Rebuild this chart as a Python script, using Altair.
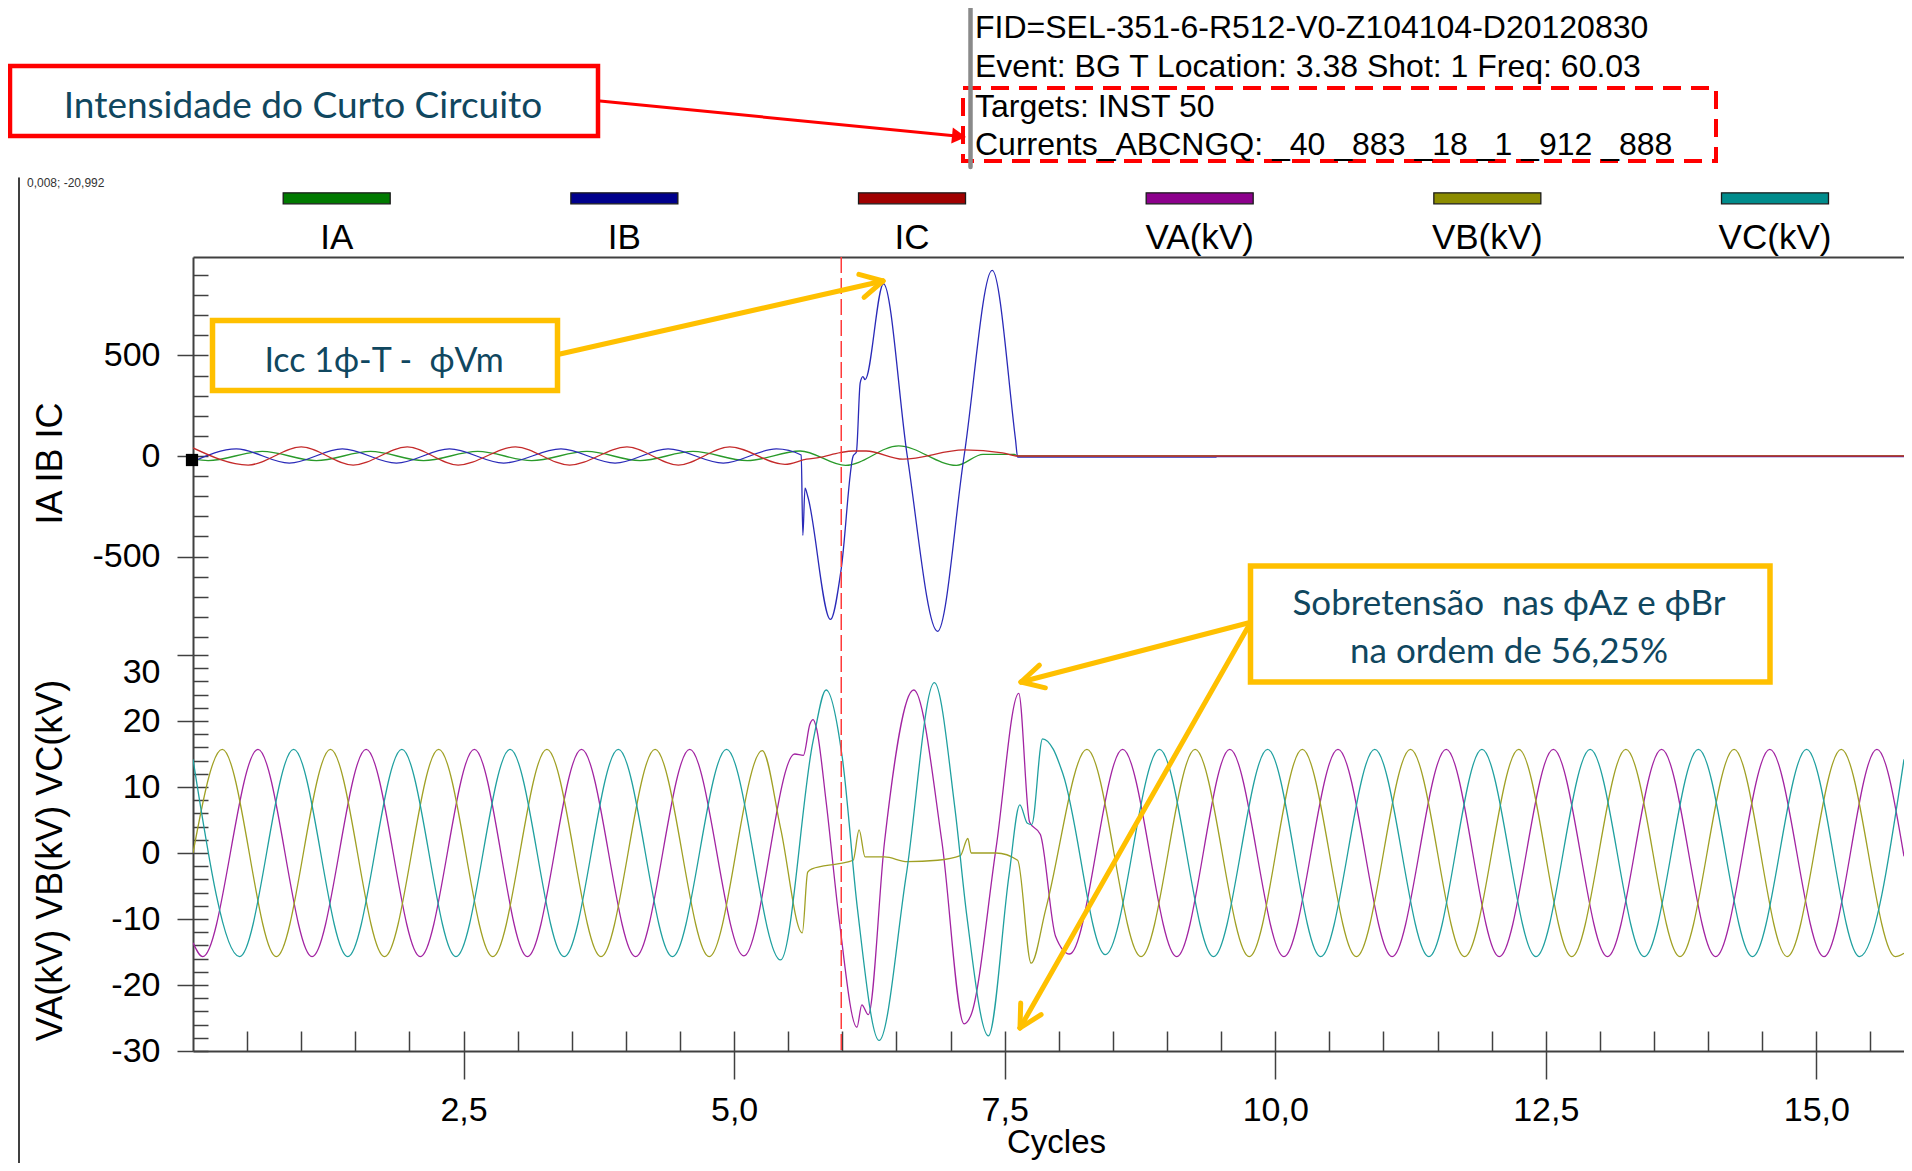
import math
import altair as alt
import pandas as pd

# ---------------- data ----------------
SERIES = ["IA", "IB", "IC", "VA(kV)", "VB(kV)", "VC(kV)"]
LEGEND_COLORS = ["#007a00", "#00008c", "#a00000", "#8c008c", "#8c8c00", "#008c8c"]
LINE_COLORS = ["#2a9a2a", "#2a2ab8", "#c42a2a", "#a224a2", "#a0a024", "#20a0a0"]

# currents (A) : time in cycles / value at peaks, troughs and breakpoints
IA_T = [0.00, 0.14, 0.64, 1.14, 1.64, 2.13, 2.63, 3.13, 3.64, 4.13, 4.62, 5.12,
        5.61, 6.03, 6.52, 7.055, 7.30, 7.59, 7.62, 15.81]
IA_V = [-16, -23, 23, -23, 23, -23, 23, -23, 23, -23, 23, -23,
        25, -47, 50, -47, 8, 8, 0, 0]

IB_T = [0.00, 0.40, 0.89, 1.38, 1.88, 2.37, 2.87, 3.40, 3.90, 4.39, 4.90, 5.39,
        5.62, 5.635, 5.655, 5.68, 5.89, 5.99, 6.10, 6.13, 6.165, 6.19, 6.21,
        6.38, 6.60, 6.88, 7.125, 7.385, 7.60, 7.62, 9.45, 9.46, 15.81]
IB_V = [-28, 35, -35, 35, -35, 35, -35, 35, -35, 35, -35, 35,
        5, -395, -160, -200, -813, -560, 0, 20, 364, 395, 380,
        857, 0, -872, 0, 923, 82, -6, -6, -3, -3]

IC_T = [0.00, 0.51, 1.00, 1.48, 1.98, 2.45, 2.98, 3.48, 4.01, 4.485, 4.96, 5.47,
        5.67, 5.79, 5.98, 6.10, 6.22, 6.56, 7.125, 7.48, 7.62, 15.81]
IC_V = [40, -45, 45, -45, 45, -45, 45, -45, 45, -45, 45, -42,
        -16, -7, 17, 25, 25, -16, 30, 16, 0, 0]

# voltages (kV)
VA_T = [0.00, 0.09, 0.60, 1.10, 1.60, 2.10, 2.60, 3.09, 3.59, 4.09, 4.59, 5.09,
        5.56, 5.64, 5.70, 5.73, 5.76, 5.85, 5.97, 6.135, 6.18, 6.24, 6.39, 6.66,
        6.92, 7.125, 7.19, 7.42, 7.63, 7.73, 7.83, 7.97, 8.10,
        8.59, 9.09, 9.58, 10.08, 10.58, 11.08, 11.58, 12.07, 12.57, 13.07, 13.57,
        14.07, 14.57, 15.07, 15.56, 15.81]
VA_V = [-13.6, -15.7, 15.7, -15.7, 15.7, -15.7, 15.7, -15.7, 15.7, -15.7, 15.7, -15.6,
        15.0, 14.8, 19.5, 20.2, 19.0, 7.8, -10.0, -26.4, -23.0, -24.5, 1.7, 24.7,
        1.7, -25.9, -24.5, 0.7, 24.2, 4.7, 2.8, -12.6, -15.3,
        15.7, -15.7, 15.7, -15.7, 15.7, -15.7, 15.7, -15.7, 15.7, -15.7, 15.7,
        -15.7, 15.7, -15.7, 15.7, -0.5]

VB_T = [0.00, 0.27, 0.77, 1.27, 1.77, 2.27, 2.77, 3.27, 3.77, 4.27, 4.77, 5.26,
        5.43, 5.63, 5.68, 5.72, 5.97, 6.10, 6.155, 6.21, 6.39, 6.60, 6.88, 7.09,
        7.16, 7.19, 7.42, 7.62, 7.745, 7.88, 8.26,
        8.76, 9.26, 9.76, 10.25, 10.75, 11.25, 11.75, 12.25, 12.74, 13.24,
        13.74, 14.24, 14.73, 15.23, 15.73, 15.81]
VB_V = [0.0, 15.7, -15.7, 15.7, -15.7, 15.7, -15.7, 15.7, -15.7, 15.7, -15.7, 15.5,
        3.7, -12.1, -2.9, -2.4, -1.6, -1.1, 3.5, -0.6, -0.6, -1.3, -1.1, -0.4,
        2.2, 0.0, 0.0, -1.1, -16.7, -8.5, 15.7,
        -15.7, 15.7, -15.7, 15.7, -15.7, 15.7, -15.7, 15.7, -15.7, 15.7,
        -15.7, 15.7, -15.7, 15.7, -15.7, -15.2]

VC_T = [0.00, 0.43, 0.93, 1.43, 1.93, 2.43, 2.93, 3.43, 3.93, 4.43, 4.93, 5.43,
        5.73, 5.85, 6.00, 6.14, 6.34, 6.59, 6.85, 7.04, 7.15, 7.35, 7.54, 7.64,
        7.71, 7.75, 7.85, 7.95, 8.04, 8.43,
        8.93, 9.43, 9.93, 10.42, 10.92, 11.42, 11.91, 12.41, 12.91, 13.41,
        13.91, 14.41, 14.91, 15.40, 15.81]
VC_V = [14.2, -15.7, 15.7, -15.7, 15.7, -15.7, 15.7, -15.7, 15.7, -15.7, 15.7, -16.2,
        17.0, 24.7, 14.4, -8.5, -28.4, -3.4, 25.8, 6.8, -9.5, -27.7, -3.4, 7.3,
        4.5, 4.3, 17.3, 15.7, 11.9, -15.4,
        15.7, -15.7, 15.7, -15.7, 15.7, -15.7, 15.7, -15.7, 15.7, -15.7,
        15.7, -15.7, 15.7, -15.7, 14.2]

TRIGGER = [5.99]

X_MAJOR = [2.5, 5.0, 7.5, 10.0, 12.5, 15.0]
X_MINOR = [0.5, 1.0, 1.5, 2.0, 2.5, 3.0, 3.5, 4.0, 4.5, 5.0, 5.5, 6.0, 6.5, 7.0, 7.5,
           8.0, 8.5, 9.0, 9.5, 10.0, 10.5, 11.0, 11.5, 12.0, 12.5, 13.0, 13.5, 14.0,
           14.5, 15.0, 15.5]
I_MAJOR = [-500, 0, 500]
I_MINOR = list(range(-900, 901, 100))
V_MAJOR = [-30, -20, -10, 0, 10, 20, 30]
V_MINOR = list(range(-30, 31, 2))

HEADER = ["FID=SEL-351-6-R512-V0-Z104104-D20120830",
          "Event: BG T Location: 3.38 Shot: 1 Freq: 60.03",
          "Targets: INST 50",
          "Currents_ABCNGQ:\u00a0_40\u00a0_883\u00a0_18\u00a0_1\u00a0_912\u00a0_888"]


def frame(names, ts, vs):
    rows = []
    for n, T, V in zip(names, ts, vs):
        for t, v in zip(T, V):
            rows.append({"t": t, "v": v, "s": n})
    return pd.DataFrame(rows)


dfI = frame(SERIES[:3], [IA_T, IB_T, IC_T], [IA_V, IB_V, IC_V])
dfV = frame(SERIES[3:], [VA_T, VB_T, VC_T], [VA_V, VB_V, VC_V])
ONE = pd.DataFrame({"k": [0]})

# ---------------- layout ----------------
W, H, HI = 1711, 794, 398
XMAX = 15.81
AX = "#404040"
F_AX = "Liberation Sans, Arial, sans-serif"
F_ANN = "Lato, 'Open Sans', sans-serif"
F_HDR = "'Liberation Sans', Arial, sans-serif"
TXT = "#10475f"
YEL = "#ffc000"

xs = alt.Scale(domain=[0, XMAX], nice=False, zero=False)
ysI = alt.Scale(domain=[-990, 990], range=[HI, 0], nice=False, zero=False)
ysV = alt.Scale(domain=[-30, 30], range=[H, HI], nice=False, zero=False)

common = dict(grid=False, labelFont=F_AX, labelColor="black", titleFont=F_AX,
              titleColor="black", titleFontWeight="normal", tickColor=AX,
              domainColor=AX, labelOverlap=False, labelFlush=False, labelBound=False)

cI = alt.Chart(dfI).mark_line(interpolate="monotone", strokeWidth=1.3, clip=True).encode(
    x=alt.X("t:Q", scale=xs, axis=alt.Axis(
        orient="bottom", values=X_MAJOR, tickSize=28, tickWidth=1.5, domainWidth=2,
        labelExpr="replace(format(datum.value, '.1f'), '.', ',')", labelFontSize=34,
        labelPadding=14, title="Cycles", titleFontSize=33, titleX=863, titleY=75,
        titleBaseline="top", titleAlign="center", **common)),
    y=alt.Y("v:Q", scale=ysI, axis=alt.Axis(
        orient="left", values=I_MAJOR, tickSize=16, tickWidth=1.5, domainWidth=2,
        labelExpr="datum.value + ''", labelFontSize=34, labelPadding=17,
        title="IA IB IC", titleFontSize=36, titleX=-124, titleY=206, titleAngle=270,
        titleAlign="center", titleBaseline="bottom", **common)),
    color=alt.Color("s:N", scale=alt.Scale(domain=SERIES[:3], range=LINE_COLORS[:3]), legend=None),
)

cV = alt.Chart(dfV).mark_line(interpolate="monotone", strokeWidth=1.3, clip=True).encode(
    x=alt.X("t:Q", scale=xs, axis=None),
    y=alt.Y("v:Q", scale=ysV, axis=alt.Axis(
        orient="left", values=V_MAJOR, tickSize=16, tickWidth=1.5, domainWidth=2,
        labelExpr="datum.value + ''", labelFontSize=34, labelPadding=17,
        labelBaseline={"condition": {"test": "datum.value >= 30", "value": "top"}, "value": "middle"},
        title="VA(kV) VB(kV) VC(kV)", titleFontSize=36, titleX=-124, titleY=603,
        titleAngle=270, titleAlign="center", titleBaseline="bottom", **common)),
    color=alt.Color("s:N", scale=alt.Scale(domain=SERIES[3:], range=LINE_COLORS[3:]), legend=None),
)

hI = alt.Chart(dfI).mark_point(opacity=0).encode(
    x=alt.X("t:Q", scale=xs, axis=alt.Axis(
        orient="top", offset=-H, values=X_MINOR, tickSize=20, tickWidth=1.5,
        tickColor=AX, domain=False, labels=False, title=None, grid=False)),
    y=alt.Y("v:Q", scale=ysI, axis=alt.Axis(
        orient="right", offset=-W, values=I_MINOR, tickSize=15, tickWidth=1.5,
        tickColor=AX, domain=False, labels=False, title=None, grid=False)),
)

hV = alt.Chart(dfV).mark_point(opacity=0).encode(
    x=alt.X("t:Q", scale=xs, axis=alt.Axis(
        orient="top", offset=0, ticks=False, labels=False, domain=True,
        domainColor=AX, domainWidth=2, title=None, grid=False)),
    y=alt.Y("v:Q", scale=ysV, axis=alt.Axis(
        orient="right", offset=-W, values=V_MINOR, tickSize=15, tickWidth=1.5,
        tickColor=AX, domain=False, labels=False, title=None, grid=False)),
)

trig = alt.Chart(pd.DataFrame({"t": TRIGGER})).mark_rule(
    color="#ff3b3b", strokeWidth=1.5, strokeDash=[16, 5]).encode(
    x=alt.X("t:Q", scale=xs, axis=None), y=alt.value(0), y2=alt.value(H))

# legend row
leg_df = pd.DataFrame({"s": SERIES, "c": LEGEND_COLORS})
leg_x = alt.X("s:N", scale=alt.Scale(type="point", domain=SERIES, range=[143.7, 1582], padding=0), axis=None)
BAR = "M-1,-0.103H1V0.103H-1Z"
leg_bars = alt.Chart(leg_df).mark_point(
    shape=BAR, size=107 * 107, filled=True, opacity=1, stroke="#1a1a1a", strokeWidth=1.3).encode(
    x=leg_x, y=alt.value(-58.7), fill=alt.Fill("c:N", scale=None))
leg_text = alt.Chart(leg_df).mark_text(font=F_AX, fontSize=35, baseline="middle", color="black").encode(
    x=leg_x, y=alt.value(-19), text="s:N")


# ---------------- annotations ----------------
def seg(x1, y1, x2, y2, color, width, dash=None):
    kw = dict(color=color, strokeWidth=width, strokeCap="round")
    if dash:
        kw["strokeDash"] = dash
    return alt.Chart(ONE).mark_rule(**kw).encode(
        x=alt.value(x1), y=alt.value(y1), x2=alt.value(x2), y2=alt.value(y2))


def box(x1, y1, x2, y2, color, width, dash=None, fill_op=1):
    kw = dict(fill="white", fillOpacity=fill_op, stroke=color, strokeWidth=width)
    if dash:
        kw["strokeDash"] = dash
    return alt.Chart(ONE).mark_rect(**kw).encode(
        x=alt.value(x1), x2=alt.value(x2), y=alt.value(y1), y2=alt.value(y2))


def label(x, y, text, size, color, font, align="center", baseline="alphabetic"):
    return alt.Chart(ONE).mark_text(text=text, fontSize=size, color=color, font=font,
                                    align=align, baseline=baseline).encode(
        x=alt.value(x), y=alt.value(y))


def open_arrow(x1, y1, x2, y2, color, width, L=25, ang=28):
    d = math.hypot(x1 - x2, y1 - y2)
    ux, uy = (x1 - x2) / d, (y1 - y2) / d
    parts = [seg(x1, y1, x2, y2, color, width)]
    for s in (1, -1):
        a = math.radians(ang * s)
        rx = ux * math.cos(a) - uy * math.sin(a)
        ry = ux * math.sin(a) + uy * math.cos(a)
        parts.append(seg(x2, y2, x2 + L * rx, y2 + L * ry, color, width))
    return parts


ann = []
# left frame line and cursor readout
ann.append(seg(-174, -79, -174, 910, "black", 1.5))
ann.append(label(-166, -74, "0,008; -20,992", 12, "#333333", F_AX, align="left", baseline="middle"))
ann.append(alt.Chart(ONE).mark_point(shape="square", filled=True, color="black", size=150, opacity=1).encode(
    x=alt.value(-1), y=alt.value(203)))

# header block
ann.append(box(770, -169, 1523, -96, "#ff0000", 4, dash=[18, 10], fill_op=0))
ann.append(seg(777.5, -252, 777.5, -90, "#8a8a8a", 4.5))
for i, line in enumerate(HEADER):
    ann.append(label(782, [-219, -180, -140, -102][i], line, 32, "black", F_HDR, align="left"))

# red box + arrow
ann.append(box(-183, -191, 405, -121, "#ff0000", 4.5))
ann.append(label(110, -138.7, "Intensidade do Curto Circuito", 37, TXT, F_ANN))
ann.append(seg(407, -156, 766, -120.8, "#ff0000", 3))
ann.append(alt.Chart(ONE).mark_point(shape="triangle-right", filled=True, color="#ff0000", size=260,
                                     opacity=1, angle=5.6).encode(x=alt.value(766), y=alt.value(-120.8)))

# yellow box 1 + arrow
ann.append(box(19.5, 63.5, 364.5, 133.5, YEL, 5.5))
ann.append(label(191, 114.7, "Icc 1\u03d5-T -\u00a0 \u03d5Vm", 34, TXT, F_ANN))
ann += open_arrow(367, 97, 690, 24, YEL, 5)

# yellow box 2 + arrows
ann += open_arrow(1055, 366, 828, 425, YEL, 5)
ann += open_arrow(1055, 370, 827, 771, YEL, 5)
ann.append(box(1057.5, 309, 1577, 425, YEL, 5.5))
ann.append(label(1316, 358, "Sobretens\u00e3o\u00a0 nas \u03d5Az e \u03d5Br", 35, TXT, F_ANN))
ann.append(label(1316, 406.3, "na ordem de 56,25%", 35, TXT, F_ANN))

chart = alt.layer(cI, cV, hI, hV, trig, leg_bars, leg_text, *ann).resolve_scale(
    x="independent", y="independent", color="independent"
).resolve_axis(
    x="independent", y="independent"
).properties(
    width=W, height=H,
    autosize=alt.AutoSizeParams(type="none"),
    padding={"left": 185, "top": 249, "right": 0, "bottom": 112},
).configure_view(stroke=None).configure_axis(grid=False)

chart.save("out.html", embed_options={"renderer": "svg", "actions": False})
